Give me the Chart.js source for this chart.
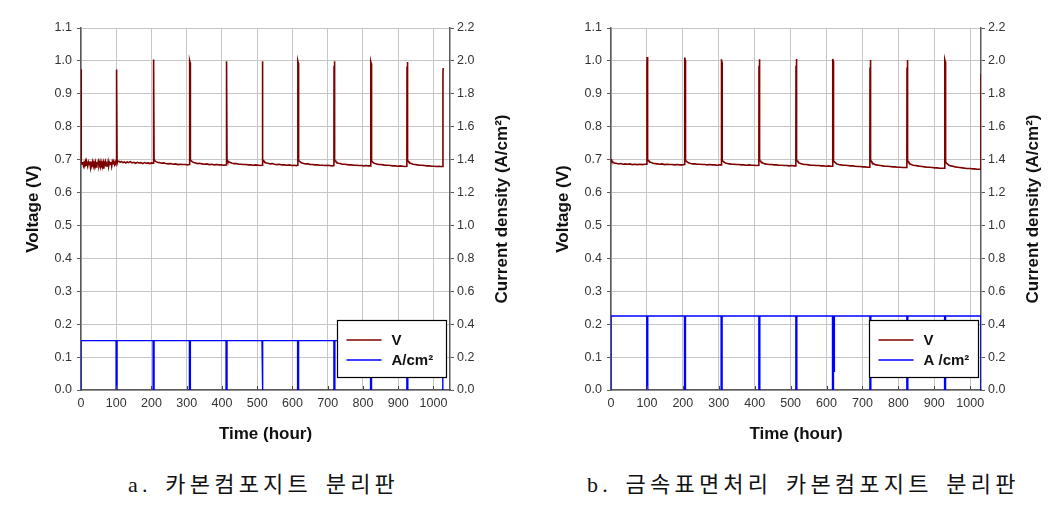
<!DOCTYPE html>
<html><head><meta charset="utf-8">
<script src="https://cdn.jsdelivr.net/npm/chart.js@4.4.1/dist/chart.umd.min.js"></script>
<style>
html,body{margin:0;padding:0;background:#fff;width:1058px;height:509px;overflow:hidden;position:relative}
.box{position:absolute;top:0;height:450px}
#wa{left:0;width:529px}
#wb{left:530px;width:528px}
.cap{position:absolute;top:471px;font-family:'Liberation Serif','Noto Sans CJK KR',serif;font-size:22px;line-height:28px;letter-spacing:4.2px;word-spacing:4px;color:#111;white-space:nowrap}
</style></head><body>
<div class="box" id="wa"><canvas id="ca"></canvas></div>
<div class="box" id="wb"><canvas id="cb"></canvas></div>
<div class="cap" style="left:128px">a. 카본컴포지트 분리판</div>
<div class="cap" style="left:587px">b. 금속표면처리 카본컴포지트 분리판</div>
<script>
// ---- tick labels ----
const xTickValues = [0,100,200,300,400,500,600,700,800,900,1000];
const xTickLabels = ['0','100','200','300','400','500','600','700','800','900','1000'];
const yTickValues = [0,0.1,0.2,0.3,0.4,0.5,0.6,0.7,0.8,0.9,1.0,1.1];
const yTickLabels = ['0.0','0.1','0.2','0.3','0.4','0.5','0.6','0.7','0.8','0.9','1.0','1.1'];
const y1TickValues = [0,0.2,0.4,0.6,0.8,1.0,1.2,1.4,1.6,1.8,2.0,2.2];
const y1TickLabels = ['0.0','0.2','0.4','0.6','0.8','1.0','1.2','1.4','1.6','1.8','2.0','2.2'];
const xTitle = 'Time (hour)';
const yTitle = 'Voltage (V)';
const y1Title = 'Current density (A/cm²)';

// ---- chart a: voltage (V) vs time (hour) ----
const voltA = [
[0,0.975],[0.4,0.700],
[1,0.690],[3,0.686],[5,0.693],[7,0.682],[9,0.692],[11,0.687],[13,0.695],[15,0.683],[17,0.689],[19,0.680],
[21,0.692],[23,0.685],[25,0.694],[27,0.676],[29,0.690],[31,0.686],[33,0.694],[35,0.681],[37,0.691],[39,0.684],
[41,0.693],[43,0.678],[45,0.689],[47,0.687],[49,0.695],[51,0.682],[53,0.691],[55,0.679],[57,0.694],[59,0.685],
[61,0.690],[63,0.675],[65,0.692],[67,0.686],[69,0.694],[71,0.681],[73,0.688],[75,0.684],[77,0.695],[79,0.682],
[81,0.691],[83,0.686],[85,0.693],[87,0.680],[89,0.694],[91,0.688],[93,0.691],[95,0.685],[97,0.694],[99,0.689],
[99.6,0.690],[100,0.955],[100.6,0.974],[101.4,0.968],[102,0.962],[102.3,0.700],
[103,0.697],[105,0.694],[108,0.695],[111,0.692],[115,0.694],[119,0.691],[123,0.693],[127,0.690],[131,0.693],[135,0.691],[140,0.694],[145,0.690],[150,0.692],[155,0.689],[160,0.692],[165,0.690],[170,0.691],[175,0.688],[180,0.691],[185,0.689],[190,0.690],[195,0.688],[200,0.690],[204.6,0.689],
[205,0.990],[205.6,1.004],[206.4,0.998],[207,0.995],[207.3,0.703],
[208,0.699],[210,0.696],[213,0.694],[217,0.692],[222,0.691],[228,0.689],[234,0.690],[240,0.688],[247,0.687],[254,0.688],[261,0.686],[268,0.687],[275,0.685],[282,0.686],[289,0.685],[296,0.685],[302,0.684],[307.6,0.685],
[308,0.985],[308.6,1.000],[309.4,0.995],[310,0.992],[310.3,0.702],
[311,0.699],[313,0.696],[316,0.693],[320,0.691],[325,0.690],[331,0.688],[337,0.689],[343,0.687],[350,0.686],[357,0.687],[364,0.685],[371,0.686],[378,0.684],[385,0.685],[392,0.684],[399,0.684],[405,0.683],[411.6,0.684],
[412,0.985],[412.6,0.999],[413.4,0.994],[414,0.990],[414.3,0.700],
[415,0.698],[417,0.695],[420,0.693],[424,0.691],[429,0.689],[435,0.688],[441,0.688],[447,0.686],[454,0.686],[461,0.685],[468,0.685],[475,0.684],[482,0.684],[489,0.683],[496,0.684],[503,0.683],[509,0.682],[513.6,0.683],
[514,0.985],[514.6,0.999],[515.4,0.994],[516,0.990],[516.3,0.700],
[517,0.698],[519,0.695],[522,0.692],[526,0.690],[531,0.689],[537,0.687],[543,0.688],[549,0.686],[556,0.685],[563,0.686],[570,0.684],[577,0.684],[584,0.683],[591,0.684],[598,0.682],[605,0.683],[611,0.682],[614.6,0.683],
[615,0.985],[615.6,0.999],[616.4,0.994],[617,0.990],[617.3,0.700],
[618,0.698],[620,0.695],[623,0.692],[627,0.690],[632,0.688],[638,0.687],[644,0.687],[650,0.685],[657,0.685],[664,0.684],[671,0.684],[678,0.683],[685,0.683],[692,0.682],[699,0.683],[706,0.682],[712,0.681],[717.6,0.682],
[718,0.985],[718.6,0.999],[719.4,0.994],[720,0.990],[720.3,0.699],
[721,0.697],[723,0.694],[726,0.691],[730,0.689],[735,0.688],[741,0.686],[747,0.686],[753,0.685],[760,0.684],[767,0.684],[774,0.683],[781,0.683],[788,0.682],[795,0.682],[802,0.681],[809,0.682],[815,0.681],[821.6,0.681],
[822,0.983],[822.6,0.997],[823.4,0.992],[824,0.988],[824.3,0.698],
[825,0.696],[827,0.693],[830,0.690],[834,0.688],[839,0.687],[845,0.685],[851,0.685],[857,0.684],[864,0.683],[871,0.683],[878,0.682],[885,0.681],[892,0.681],[899,0.680],[906,0.681],[913,0.680],[919,0.679],[924.6,0.680],
[925,0.983],[925.6,0.997],[926.4,0.992],[927,0.988],[927.3,0.698],
[928,0.696],[930,0.693],[933,0.690],[937,0.688],[942,0.686],[948,0.685],[954,0.684],[960,0.683],[967,0.683],[974,0.682],[981,0.681],[988,0.681],[995,0.680],[1002,0.680],[1009,0.679],[1015,0.680],[1021,0.679],[1026.6,0.679],
[1027,0.955],[1027.5,0.978],[1028,0.975]
];
// ---- chart a: current density (A/cm2) ----
const currentA = [
[0,0],[0,0.30],[99.6,0.30],[99.6,0],[102.3,0],[102.3,0.30],[204.6,0.30],[204.6,0],[207.3,0],[207.3,0.30],
[307.6,0.30],[307.6,0],[310.3,0],[310.3,0.30],[411.6,0.30],[411.6,0],[414.3,0],[414.3,0.30],
[513.6,0.30],[513.6,0],[516.3,0],[516.3,0.30],[614.6,0.30],[614.6,0],[617.3,0],[617.3,0.30],
[717.6,0.30],[717.6,0],[720.3,0],[720.3,0.30],[821.6,0.30],[821.6,0],[824.3,0],[824.3,0.30],
[924.6,0.30],[924.6,0],[927.3,0],[927.3,0.30],[1026.6,0.30],[1026.6,0]
];

// ---- chart b: voltage (V) ----
const voltB = [
[0,0.702],[1,0.699],[2,0.697],[4,0.694],[6,0.692],[9,0.690],[13,0.689],[17,0.688],[22,0.687],[27,0.688],[33,0.686],[39,0.687],[45,0.686],[52,0.687],[59,0.685],[66,0.686],[73,0.685],[80,0.686],[87,0.685],[94,0.686],[99.6,0.686],
[100,0.990],[100.6,1.012],[101.4,1.005],[102,1.000],[102.3,0.701],
[103,0.699],[105,0.696],[108,0.693],[112,0.691],[117,0.689],[123,0.688],[129,0.687],[135,0.686],[142,0.687],[149,0.685],[156,0.686],[163,0.685],[170,0.685],[177,0.684],[184,0.685],[191,0.684],[198,0.684],[204.6,0.685],
[205,0.990],[205.6,1.010],[206.4,1.003],[207,0.998],[207.3,0.701],
[208,0.698],[210,0.695],[213,0.692],[217,0.690],[222,0.688],[228,0.687],[234,0.687],[240,0.686],[247,0.686],[254,0.685],[261,0.685],[268,0.684],[275,0.685],[282,0.684],[289,0.684],[296,0.683],[302,0.684],[306.6,0.684],
[307,0.985],[307.6,1.005],[308.4,1.000],[309,0.996],[309.3,0.701],
[310,0.698],[312,0.695],[315,0.692],[319,0.690],[324,0.688],[330,0.687],[336,0.686],[342,0.686],[349,0.685],[356,0.685],[363,0.684],[370,0.684],[377,0.683],[384,0.684],[391,0.683],[398,0.683],[405,0.682],[411.6,0.683],
[412,0.985],[412.6,1.005],[413.4,1.000],[414,0.996],[414.3,0.700],
[415,0.697],[417,0.694],[420,0.691],[424,0.689],[429,0.687],[435,0.686],[441,0.685],[447,0.685],[454,0.684],[461,0.684],[468,0.683],[475,0.683],[482,0.682],[489,0.682],[496,0.681],[503,0.682],[509,0.681],[514.6,0.681],
[515,0.985],[515.6,1.006],[516.4,1.000],[517,0.996],[517.3,0.700],
[518,0.697],[520,0.694],[523,0.691],[527,0.688],[532,0.687],[538,0.685],[544,0.685],[550,0.684],[557,0.683],[564,0.683],[571,0.682],[578,0.682],[585,0.681],[592,0.681],[599,0.680],[606,0.681],[612,0.680],[616.6,0.680],
[617,0.985],[617.6,1.006],[618.4,1.000],[619,0.996],[619.3,0.700],
[620,0.697],[622,0.693],[625,0.690],[629,0.687],[634,0.685],[640,0.684],[646,0.683],[652,0.683],[659,0.682],[666,0.681],[673,0.681],[680,0.680],[687,0.679],[694,0.679],[701,0.678],[708,0.678],[714,0.677],[720.6,0.677],
[721,0.980],[721.6,1.003],[722.4,0.998],[723,0.994],[723.3,0.699],
[724,0.696],[726,0.692],[729,0.689],[733,0.686],[738,0.684],[744,0.683],[750,0.682],[756,0.681],[763,0.680],[770,0.680],[777,0.679],[784,0.678],[791,0.678],[798,0.677],[805,0.677],[812,0.676],[818,0.676],[823.6,0.676],
[824,0.980],[824.6,1.003],[825.4,0.998],[826,0.994],[826.3,0.698],
[827,0.695],[829,0.691],[832,0.688],[836,0.685],[841,0.683],[847,0.682],[853,0.681],[859,0.680],[866,0.679],[873,0.678],[880,0.677],[887,0.677],[894,0.676],[901,0.675],[908,0.675],[915,0.674],[921,0.674],[928.6,0.674],
[929,0.980],[929.6,1.003],[930.4,0.998],[931,0.994],[931.3,0.697],
[932,0.694],[934,0.690],[937,0.686],[941,0.683],[946,0.681],[952,0.680],[958,0.678],[964,0.677],[971,0.676],[978,0.675],[985,0.674],[992,0.673],[999,0.673],[1006,0.672],[1013,0.672],[1019,0.671],[1025,0.671],[1029.6,0.671],
[1030,0.960],[1030.4,0.981]
];
// ---- chart b: current density (A/cm2) ----
const currentB = [
[0,0],[0,0.45],[99.6,0.45],[99.6,0],[102.3,0],[102.3,0.45],[204.6,0.45],[204.6,0],[207.3,0],[207.3,0.45],
[306.6,0.45],[306.6,0],[309.3,0],[309.3,0.45],[411.6,0.45],[411.6,0],[414.3,0],[414.3,0.45],
[514.6,0.45],[514.6,0],[517.3,0],[517.3,0.45],[616.6,0.45],[616.6,0],[619.3,0],[619.3,0.45],
[621.5,0.45],[621.5,0.11],[622,0.11],[622,0.45],
[720.6,0.45],[720.6,0],[723.3,0],[723.3,0.45],[823.6,0.45],[823.6,0],[826.3,0],[826.3,0.45],
[928.6,0.45],[928.6,0],[931.3,0],[931.3,0.45],[1029.6,0.45],[1029.6,0]
];

const FONT = "'Liberation Sans', Arial, sans-serif";
Chart.defaults.font.family = FONT;

const decor = {
  id: 'decor',
  afterDatasetsDraw(chart) {
    const {ctx, chartArea: a, scales: {x}} = chart;
    ctx.save();
    ctx.strokeStyle = '#444'; ctx.lineWidth = 1;
    xTickValues.forEach(v => {
      if (v === 0) return;
      const px = Math.round(x.getPixelForValue(v)) + 0.5;
      ctx.beginPath(); ctx.moveTo(px, a.bottom); ctx.lineTo(px, a.bottom - 4); ctx.stroke();
    });
    ctx.restore();
  },
  afterDraw(chart, args, opts) {
    const {ctx, chartArea: a} = chart;
    ctx.save();
    ctx.font = 'bold 17px ' + FONT;
    ctx.fillStyle = '#111'; ctx.textAlign = 'center'; ctx.textBaseline = 'middle';
    ctx.translate(a.right + 52, (a.top + a.bottom) / 2);
    ctx.rotate(-Math.PI / 2);
    ctx.fillText(y1Title, 0, 0);
    ctx.restore();
    const w = 109, h = 57;
    const lx = Math.round(a.right - opts.inset - w) + 0.5, ly = Math.round(a.bottom - 13 - h) + 0.5;
    ctx.save();
    ctx.fillStyle = '#fff'; ctx.fillRect(lx, ly, w, h);
    ctx.strokeStyle = '#000'; ctx.lineWidth = 1.2; ctx.strokeRect(lx, ly, w, h);
    ctx.font = 'bold 15px ' + FONT; ctx.textBaseline = 'middle'; ctx.textAlign = 'left';
    chart.data.datasets.forEach((ds, i) => {
      const yy = Math.round(ly + 19 + i * 20);
      ctx.strokeStyle = ds.borderColor; ctx.lineWidth = 1.3;
      ctx.beginPath(); ctx.moveTo(lx + 9, yy); ctx.lineTo(lx + 44, yy); ctx.stroke();
      ctx.fillStyle = '#111'; ctx.fillText(ds.label, lx + 54, yy + 1);
    });
    ctx.restore();
  }
};

function makeChart(id, volt, cur, xMax, y1w, inset, curLabel) {
  const grid = '#c6c6c6', axis = '#5a5a5a', tick = '#333';
  return new Chart(document.getElementById(id), {
    type: 'line',
    data: { datasets: [
      { label: 'V', data: volt.map(p => ({x: p[0], y: p[1]})), yAxisID: 'y',
        borderColor: '#7d0000', borderWidth: 1.6, pointRadius: 0, tension: 0 },
      { label: curLabel, data: cur.map(p => ({x: p[0], y: p[1]})), yAxisID: 'y1',
        borderColor: '#0000ff', borderWidth: 1.4, pointRadius: 0, tension: 0 }
    ]},
    options: {
      responsive: true, maintainAspectRatio: false, animation: false, events: [],
      layout: { padding: { left: 19, top: 28, right: 0, bottom: 0 } },
      plugins: { legend: { display: false }, tooltip: { enabled: false }, decor: { inset } },
      scales: {
        x: { type: 'linear', min: 0, max: xMax,
          afterBuildTicks: s => { s.ticks = xTickValues.map(v => ({value: v})); },
          afterFit: s => { s.height = 60; },
          ticks: { color: tick, font: {size: 12.5}, padding: 6, maxRotation: 0, autoSkip: false,
                   callback: (v, i) => xTickLabels[i] },
          grid: { color: grid, drawTicks: false },
          border: { color: axis, width: 1.5 },
          title: { display: true, text: xTitle, color: '#111', font: {size: 17, weight: 'bold'},
                   padding: {top: 0, bottom: 5} } },
        y: { position: 'left', min: 0, max: 1.1,
          afterBuildTicks: s => { s.ticks = yTickValues.map(v => ({value: v})); },
          afterFit: s => { s.width = 62; },
          ticks: { color: tick, font: {size: 12.5}, padding: 5, autoSkip: false,
                   callback: (v, i) => yTickLabels[i] },
          grid: { color: grid, tickColor: axis, tickLength: 4 },
          border: { color: axis, width: 1.5 },
          title: { display: true, text: yTitle, color: '#111', font: {size: 17, weight: 'bold'},
                   padding: {top: 4, bottom: 0} } },
        y1: { position: 'right', min: 0, max: 2.2,
          afterBuildTicks: s => { s.ticks = y1TickValues.map(v => ({value: v})); },
          afterFit: s => { s.width = y1w; },
          ticks: { color: tick, font: {size: 12.5}, padding: 3, autoSkip: false,
                   callback: (v, i) => y1TickLabels[i] },
          grid: { drawOnChartArea: false, tickColor: axis, tickLength: 4 },
          border: { color: axis, width: 1.5 } }
      }
    },
    plugins: [decor]
  });
}

makeChart('ca', voltA, currentA, 1047, 79, 4, 'A/cm²');
makeChart('cb', voltB, currentB, 1030, 77, 3, 'A /cm²');
</script>
</body></html>
